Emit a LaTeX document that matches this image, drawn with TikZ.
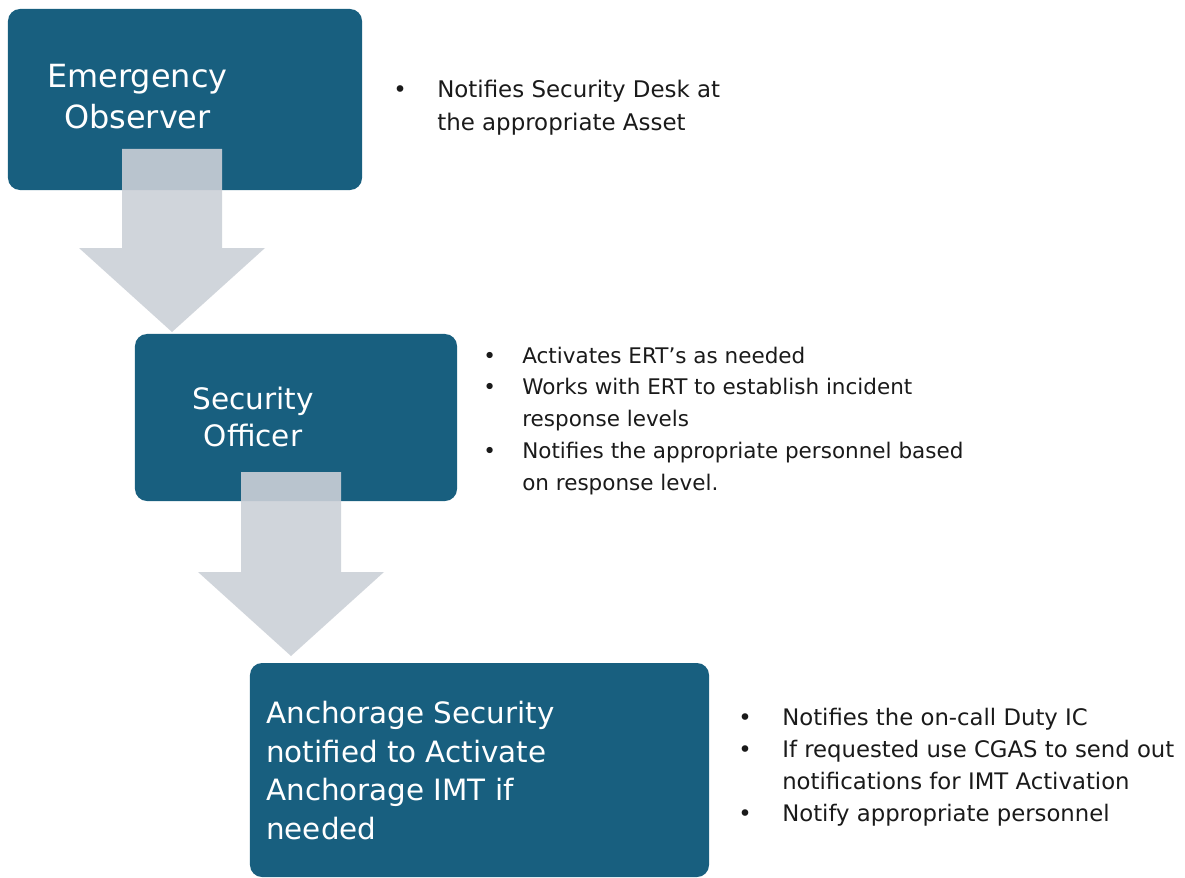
\documentclass[tikz,border=0pt]{standalone}
\usepackage{fontspec}
\setmainfont{DejaVu Sans}
\usetikzlibrary{calc}

\definecolor{boxblue}{HTML}{185F7F}
\definecolor{arrowgray}{HTML}{CBD0D7}
\definecolor{notegray}{HTML}{1A1A1A}

% #1 = tail centre, #2 = tip of a broad down arrow
\newcommand{\downarrowblock}[2]{%
  \fill[flowarrow] ($(#1)+(-50,0)$) -- ($(#1)+(50,0)$) -- ($(#2)+(50,-84)$)
    -- ($(#2)+(93,-84)$) -- (#2) -- ($(#2)+(-93,-84)$) -- ($(#2)+(-50,-84)$) -- cycle;}

\begin{document}
\begin{tikzpicture}[
  x=0.25mm,y=-0.25mm,
  box/.style={fill=boxblue,rounded corners=3mm,inner sep=0pt,outer sep=0pt},
  boxtext/.style={text=white,align=center,inner sep=0pt},
  notes/.style={anchor=base west,inner sep=0pt,text=notegray},
  flowarrow/.style={fill=arrowgray,fill opacity=0.9}
]
\useasboundingbox (0,0) rectangle (1185,878);

% boxes
\node[box,minimum width=88.5mm,minimum height=45.25mm] (obs) at (185,99.5) {};
\node[box,minimum width=80.5mm,minimum height=41.75mm] (sec) at (296,417.5) {};
\node[box,minimum width=114.75mm,minimum height=53.5mm] (anc) at (479.5,770) {};

\node[boxtext,font=\fontsize{22.7}{29.2}\selectfont] (obslabel) at (137.5,97) {Emergency\\Observer};
\node[boxtext,font=\fontsize{21}{26.5}\selectfont] (seclabel) at (253,417) {Security\\Officer};
\node[boxtext,align=left,anchor=west,font=\fontsize{20.9}{27.3}\selectfont] (anclabel) at (266,770.5)
  {Anchorage Security\\notified to Activate\\Anchorage IMT if\\needed};

% arrows
\coordinate (obsout) at (172,149);
\coordinate (secin) at (172,332);
\coordinate (secout) at (291,472);
\coordinate (ancin) at (291,656);
\downarrowblock{obsout}{secin}
\downarrowblock{secout}{ancin}

% notes
\node[notes,font=\fontsize{16.3}{22.8}\selectfont] (obsnotes) at (393,98) {\begin{tabular}[t]{@{}p{11mm}@{}l@{}}
  \textbullet & Notifies Security Desk at\\
              & the appropriate Asset
\end{tabular}};
\node[notes,font=\fontsize{15.3}{22.6}\selectfont] (secnotes) at (483,363) {\begin{tabular}[t]{@{}p{9.75mm}@{}l@{}}
  \textbullet & Activates ERT’s as needed\\
  \textbullet & Works with ERT to establish incident\\
              & response levels\\
  \textbullet & Notifies the appropriate personnel based\\
              & on response level.
\end{tabular}};
\node[notes,font=\fontsize{16.2}{22.8}\selectfont] (ancnotes) at (738,725) {\begin{tabular}[t]{@{}p{11mm}@{}l@{}}
  \textbullet & Notifies the on-call Duty IC\\
  \textbullet & If requested use CGAS to send out\\
              & notifications for IMT Activation\\
  \textbullet & Notify appropriate personnel
\end{tabular}};
\end{tikzpicture}
\end{document}
